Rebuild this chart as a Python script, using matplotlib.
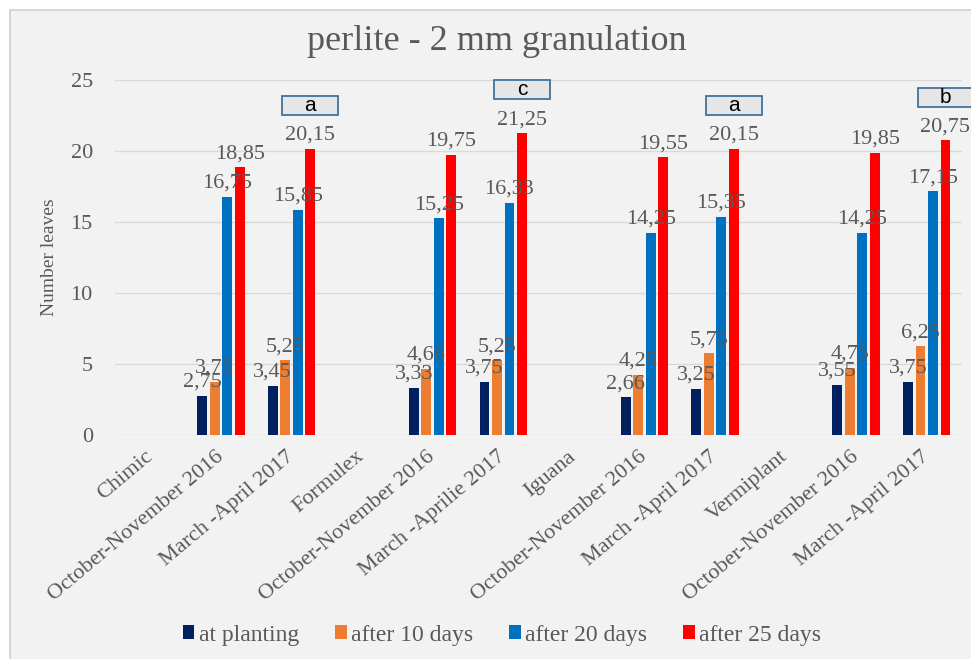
import numpy as np
import matplotlib
matplotlib.use('Agg')
import matplotlib.pyplot as plt
from matplotlib.patches import Rectangle

plt.rcParams['font.family'] = ['Liberation Serif', 'DejaVu Serif']

categories = ['Chimic', 'October-November 2016', 'March -April 2017',
              'Formulex', 'October-November 2016', 'March -Aprilie 2017',
              'Iguana', 'October-November 2016', 'March -April 2017',
              'Vermiplant', 'October-November 2016', 'March -April 2017']

series_names = ['at planting', 'after 10 days', 'after 20 days', 'after 25 days']
at_planting = [None, 2.75, 3.45, None, 3.33, 3.75, None, 2.66, 3.25, None, 3.55, 3.75]
after_10 = [None, 3.75, 5.25, None, 4.66, 5.25, None, 4.25, 5.75, None, 4.75, 6.25]
after_20 = [None, 16.75, 15.85, None, 15.25, 16.33, None, 14.25, 15.35, None, 14.25, 17.15]
after_25 = [None, 18.85, 20.15, None, 19.75, 21.25, None, 19.55, 20.15, None, 19.85, 20.75]
colors = ['#002060', '#ED7D31', '#0070C0', '#FF0000']

# significance letters, over the "March -April" group of each product
letter_idx = [2, 5, 8, 11]
letters = ['a', 'c', 'a', 'b']

bg = '#F2F2F2'
txt = '#595959'

fig = plt.figure(figsize=(9.71, 6.59), dpi=100)
fig.patch.set_facecolor('white')
# chart area: gray, border only visible on the left
fig.patches.append(Rectangle((10 / 971, -0.05), 1.1, 1.05 - 10 / 659, transform=fig.transFigure,
                             facecolor=bg, edgecolor='#D0D0D0', linewidth=1.2, zorder=-10))

ax = fig.add_axes([115 / 971, 1 - 435 / 659, 847 / 971, 355 / 659])
ax.set_facecolor(bg)

x = np.arange(len(categories))
step = 0.177
width = 0.14
all_series = [at_planting, after_10, after_20, after_25]
for k, (vals, col, name) in enumerate(zip(all_series, colors, series_names)):
    xs = [x[i] + (k - 1.5) * step for i in range(len(vals)) if vals[i] is not None]
    hs = [v for v in vals if v is not None]
    bars = ax.bar(xs, hs, width=width, color=col, label=name, zorder=3)
    ax.bar_label(bars, labels=[('%.2f' % v).replace('.', ',') for v in hs],
                 padding=3, fontsize=16, color=txt, zorder=4)

# letter boxes
box_w = 0.79
box_h = 1.34
for i, let in zip(letter_idx, letters):
    cx = x[i] + 1.5 * step
    cy = after_25[i] + 3.05
    ax.add_patch(Rectangle((cx - box_w / 2, cy - box_h / 2), box_w, box_h,
                           facecolor='#E7E6E6', edgecolor='#41719C', linewidth=1.3,
                           clip_on=False, zorder=5))
    ax.text(cx, cy, let, ha='center', va='center', fontsize=15, color='black',
            family=['Liberation Sans', 'DejaVu Sans'], zorder=6, clip_on=False)

ax.set_xlim(-0.5, len(categories) - 0.5)
ax.set_ylim(0, 25)
ax.set_yticks(np.arange(0, 26, 5))
ax.yaxis.grid(True, color='#DADADA', linewidth=1)
ax.set_axisbelow(True)
for s in ax.spines.values():
    s.set_visible(False)
ax.tick_params(axis='both', length=0, labelsize=16, labelcolor=txt)
ax.tick_params(axis='y', pad=16)
ax.tick_params(axis='x', pad=14)
ax.set_xticks(x)
ax.set_xticklabels(categories, rotation=40, ha='right', va='center', rotation_mode='anchor')

fig.text(50 / 971, 1 - 257 / 659, 'Number leaves', rotation=90, ha='center', va='center',
         fontsize=14, color=txt)
fig.text(497 / 971, 1 - 42 / 659, 'perlite - 2 mm granulation', ha='center', va='center',
         fontsize=26, color=txt)

fig.legend(loc='center', bbox_to_anchor=(502 / 971, 1 - 635 / 659), ncol=4, frameon=False,
           fontsize=17, handlelength=0.5, handleheight=0.5, handletextpad=0.2,
           columnspacing=1.5, labelcolor=txt)

fig.savefig('out.png', dpi=100, facecolor=fig.get_facecolor())
